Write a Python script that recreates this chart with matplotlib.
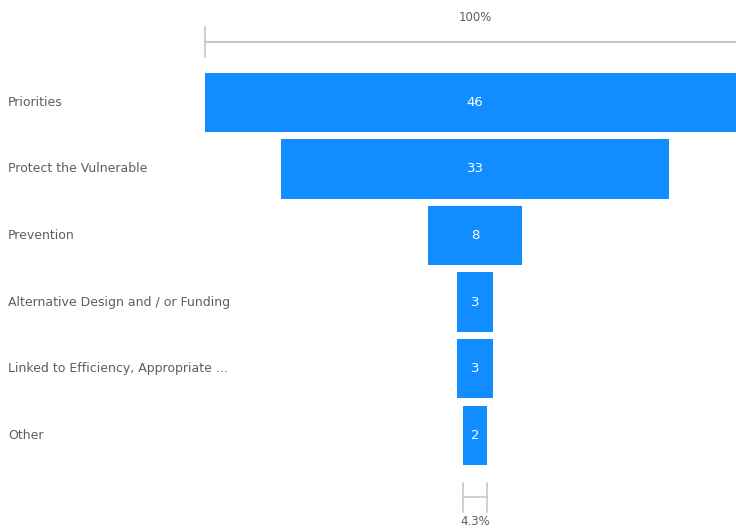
import matplotlib.pyplot as plt
import matplotlib.transforms as mtransforms

categories = ['Priorities', 'Protect the Vulnerable', 'Prevention',
              'Alternative Design and / or Funding',
              'Linked to Efficiency, Appropriate ...', 'Other']
values = [46, 33, 8, 3, 3, 2]

BAR_COLOR = '#118DFF'
TEXT_COLOR = '#605E5C'
LINE_COLOR = '#C8C8C8'

fig = plt.figure(figsize=(7.36, 5.28), dpi=100)
W, H = 736, 528
# funnel area in pixels: x 205..745 (right part clipped by the figure edge),
# y 69..468.6
ax = fig.add_axes([205 / W, 1 - 468.6 / H, 540 / W, 399.6 / H])

top = max(values)
rows = list(range(len(values)))
ax.barh(rows, values, left=[-v / 2 for v in values], height=0.89,
        color=BAR_COLOR)
ax.set_xlim(-top / 2, top / 2)
ax.set_ylim(len(values) - 0.5, -0.5)
ax.axis('off')

label_tf = mtransforms.blended_transform_factory(fig.transFigure, ax.transData)
for i, (cat, v) in enumerate(zip(categories, values)):
    ax.text(0, i, str(v), color='white', ha='center', va='center', fontsize=9.5)
    ax.text(8 / W, i, cat, color=TEXT_COLOR, ha='left', va='center',
            fontsize=9, transform=label_tf)

# top scale: 100%
y_line = -0.905
ax.plot([-top / 2, top / 2], [y_line, y_line], color=LINE_COLOR, lw=1.5,
        clip_on=False)
ax.plot([-top / 2, -top / 2], [y_line - 0.22, y_line + 0.22],
        color=LINE_COLOR, lw=1.2, clip_on=False)
ax.text(0, -1.27, '100%', color=TEXT_COLOR, ha='center', va='center',
        fontsize=8.5)

# bottom scale: last stage as share of first
last = values[-1]
y_b = 5.93
ax.plot([-last / 2, last / 2], [y_b, y_b], color=LINE_COLOR, lw=1.2,
        clip_on=False)
for xx in (-last / 2, last / 2):
    ax.plot([xx, xx], [y_b - 0.22, y_b + 0.22], color=LINE_COLOR, lw=1.2,
            clip_on=False)
ax.text(0, 6.3, f'{last / top * 100:.1f}%', color=TEXT_COLOR, ha='center',
        va='center', fontsize=8.5)

fig.savefig('out.png', dpi=100)
